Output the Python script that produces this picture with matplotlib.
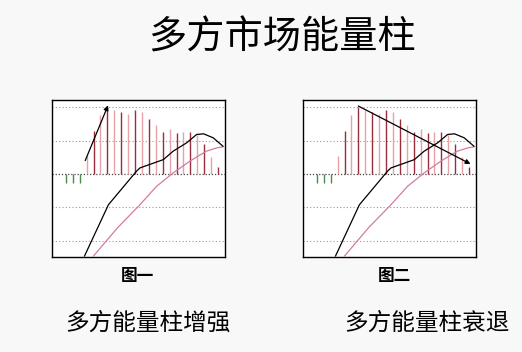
import numpy as np
import matplotlib.pyplot as plt

plt.rcParams['font.family'] = ['Noto Sans CJK SC', 'DejaVu Sans']

title = "多方市场能量柱"
panel_labels = ["图一", "图二"]
captions = ["多方能量柱增强", "多方能量柱衰退"]

# MACD histogram (bar index 0..22)
hist = [-0.27, -0.27, -0.27, 0.53, 1.28, 1.75, 2.0, 1.91, 1.85, 1.78, 1.91, 1.85,
        1.65, 1.46, 1.26, 1.34, 1.21, 1.24, 1.26, 1.15, 0.9, 0.5, 0.2]

# DIF (black) and DEA (pink) lines
dif_x = [2.7, 6.15, 10.2, 10.7, 14.1, 15.5, 17.45, 18.9, 19.9, 21.3, 22.7]
dif_y = [-2.45, -0.92, 0.08, 0.18, 0.43, 0.68, 0.93, 1.18, 1.2, 1.08, 0.83]
dea_x = [4.0, 7.5, 10.7, 13.1, 15.5, 17.9, 20.3, 21.8, 22.7]
dea_y = [-2.45, -1.6, -0.92, -0.37, 0.03, 0.38, 0.68, 0.78, 0.81]

# arrows: (start, end)
arrows = [((2.8, 0.4), (6.1, 2.05)), ((6.0, 2.03), (22.2, 0.3))]

fig = plt.figure(figsize=(5.22, 3.52), dpi=100, facecolor='#f8f8f8')
W, H = 522, 352
fig.text(282 / W, 1 - 38 / H, title, ha='center', va='center', fontsize=27.5)

boxes = [(52, 100, 225, 257), (303, 100, 476, 257)]
label_x = [137, 394]
caption_x = [148, 427]

for i, (l, t, r, b) in enumerate(boxes):
    ax = fig.add_axes([l / W, 1 - b / H, (r - l) / W, (b - t) / H])
    ax.set_facecolor('white')
    for yv in [-2, -1, 1, 2]:
        ax.axhline(yv, color='#999999', lw=0.8, ls=(0, (1, 2)), zorder=0)
    ax.axhline(0, color='#444444', lw=0.9, ls=(0, (1, 1.5)), zorder=0)
    idx = np.arange(len(hist))
    colors = []
    for k, v in enumerate(hist):
        if v < 0:
            colors.append('#4a8a4a')
        elif k % 2:
            colors.append('#e8a2a6')
        else:
            colors.append('#9a2c3c')
    ax.vlines(idx, 0, hist, colors=colors, lw=1.0, zorder=2)
    ax.plot(dea_x, dea_y, color='#d47aa6', lw=0.9, zorder=3)
    ax.plot(dif_x, dif_y, color='black', lw=0.9, zorder=4)
    (x0, y0), (x1, y1) = arrows[i]
    ax.annotate('', xy=(x1, y1), xytext=(x0, y0),
                arrowprops=dict(arrowstyle='-|>', color='black', lw=0.9,
                                mutation_scale=7, shrinkA=0, shrinkB=0), zorder=5)
    ax.set_xlim(-2, 23)
    ax.set_ylim(-2.48, 2.21)
    ax.set_xticks([])
    ax.set_yticks([])
    for s in ax.spines.values():
        s.set_color('black')
        s.set_linewidth(1.0)

    fig.text(label_x[i] / W, 1 - 276 / H, panel_labels[i], ha='center', va='center',
             fontsize=12, fontweight='bold')
    fig.text(caption_x[i] / W, 1 - 323 / H, captions[i], ha='center', va='center',
             fontsize=17)

fig.savefig('out.png', dpi=100, facecolor=fig.get_facecolor())
